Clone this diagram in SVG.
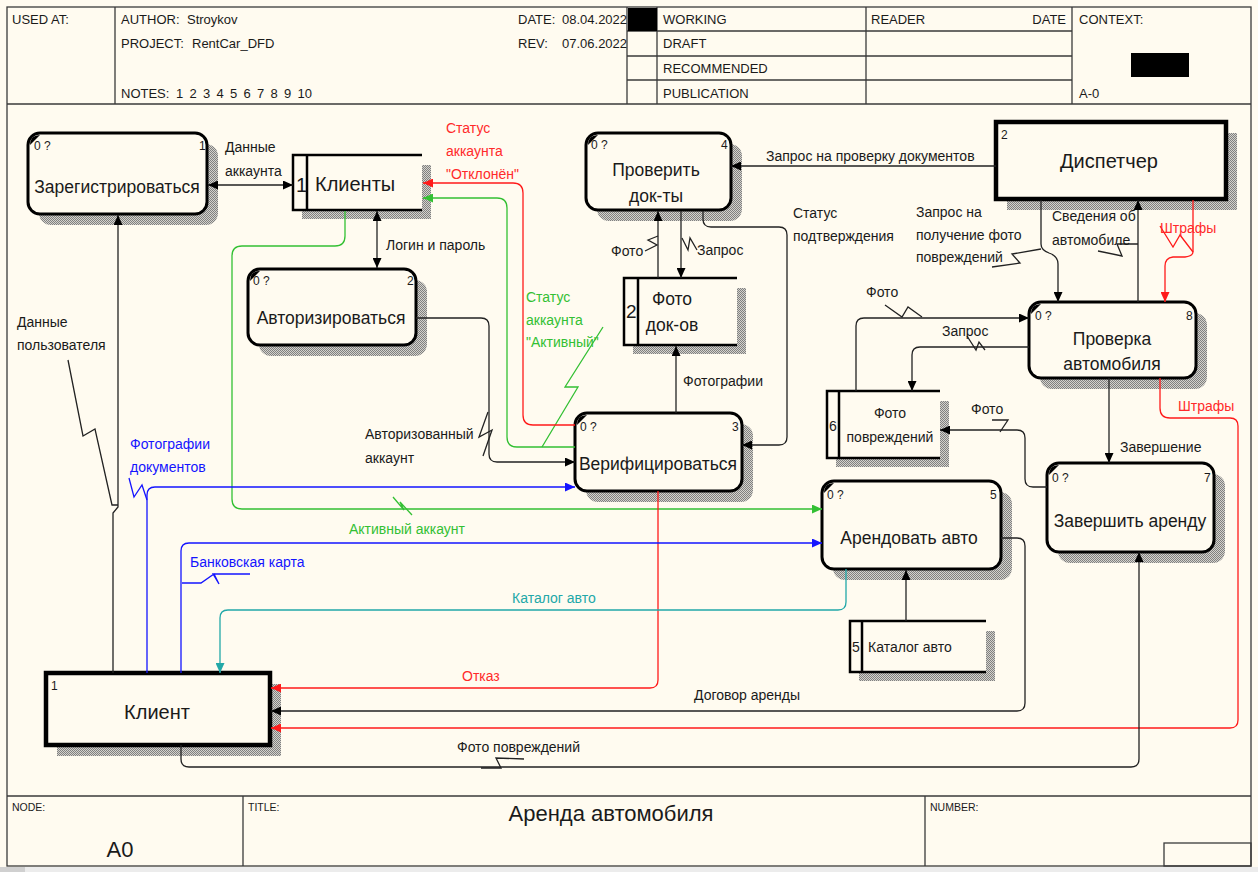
<svg xmlns="http://www.w3.org/2000/svg" width="1258" height="872" viewBox="0 0 1258 872">
<defs>
<style>
.t{font-family:"Liberation Sans",Arial,sans-serif;fill:#1a1a1a}
.h{font-size:13px}
.f{font-size:10.5px}
.l{font-size:14px}
.n{font-size:17.5px}
.s{font-size:12px}
.fr{fill:none;stroke:#3a3a3a;stroke-width:1.3}
.proc{fill:#fffbf0;stroke:#000;stroke-width:3}
.ext{fill:#fffbf0;stroke:#000;stroke-width:4.5}
.st{fill:none;stroke:#000;stroke-width:2.5}
.sh{fill:url(#hatch)}
.c{fill:none;stroke:#222;stroke-width:1.3}
.cr{fill:none;stroke:#ff1a1a;stroke-width:1.3}
.cg{fill:none;stroke:#33c033;stroke-width:1.3}
.cb{fill:none;stroke:#1414ff;stroke-width:1.3}
.ct{fill:none;stroke:#22a8a8;stroke-width:1.3}
.red{fill:#ff2a2a}
.grn{fill:#33c033}
.blu{fill:#1414ff}
.tea{fill:#22a8a8}
</style>
<pattern id="hatch" width="2" height="2" patternUnits="userSpaceOnUse">
<rect x="0" y="0" width="2" height="2" fill="#d4d2cc"/>
<rect x="0" y="0" width="1" height="1" fill="#808080"/>
<rect x="1" y="1" width="1" height="1" fill="#808080"/>
</pattern>
<marker id="ak" markerWidth="10" markerHeight="9" refX="10" refY="4.5" orient="auto-start-reverse" markerUnits="userSpaceOnUse"><path d="M0,0 L10,4.5 L0,9 z" fill="#000"/></marker>
<marker id="ar" markerWidth="10" markerHeight="9" refX="10" refY="4.5" orient="auto" markerUnits="userSpaceOnUse"><path d="M0,0 L10,4.5 L0,9 z" fill="#ff1a1a"/></marker>
<marker id="ag" markerWidth="10" markerHeight="9" refX="10" refY="4.5" orient="auto" markerUnits="userSpaceOnUse"><path d="M0,0 L10,4.5 L0,9 z" fill="#33c033"/></marker>
<marker id="ab" markerWidth="10" markerHeight="9" refX="10" refY="4.5" orient="auto" markerUnits="userSpaceOnUse"><path d="M0,0 L10,4.5 L0,9 z" fill="#1414ff"/></marker>
<marker id="at" markerWidth="10" markerHeight="9" refX="10" refY="4.5" orient="auto" markerUnits="userSpaceOnUse"><path d="M0,0 L10,4.5 L0,9 z" fill="#22a8a8"/></marker>
</defs>

<rect x="0" y="0" width="1258" height="872" fill="#fffbf0"/>
<rect x="0" y="867" width="1258" height="5" fill="#ececec"/>
<rect x="0" y="867" width="25" height="5" fill="#d0d0d0"/>

<g id="frame">
<rect class="fr" x="7" y="7" width="1244" height="859"/>
<line class="fr" x1="7" y1="104" x2="1251" y2="104" stroke-width="1.8"/>
<line class="fr" x1="115" y1="7" x2="115" y2="104"/>
<line class="fr" x1="627" y1="7" x2="627" y2="104"/>
<line class="fr" x1="657" y1="7" x2="657" y2="104"/>
<line class="fr" x1="866" y1="7" x2="866" y2="104"/>
<line class="fr" x1="1072" y1="7" x2="1072" y2="104"/>
<line class="fr" x1="627" y1="31" x2="1072" y2="31"/>
<line class="fr" x1="627" y1="56" x2="1072" y2="56"/>
<line class="fr" x1="627" y1="80" x2="1072" y2="80"/>
<rect x="628" y="8" width="29" height="23" fill="#000"/>
<rect x="1131" y="53" width="58" height="24" fill="#000"/>
<text class="t h" x="12" y="24">USED AT:</text>
<text class="t h" x="121" y="24">AUTHOR:</text>
<text class="t h" x="187" y="24">Stroykov</text>
<text class="t h" x="121" y="48">PROJECT:</text>
<text class="t h" x="192" y="48">RentCar_DFD</text>
<text class="t h" x="121" y="98">NOTES:</text>
<text class="t h" y="98"><tspan x="176">1</tspan><tspan x="189.5">2</tspan><tspan x="203">3</tspan><tspan x="216.5">4</tspan><tspan x="230">5</tspan><tspan x="243.5">6</tspan><tspan x="257">7</tspan><tspan x="270.5">8</tspan><tspan x="284">9</tspan><tspan x="297.5">10</tspan></text>
<text class="t h" x="518" y="24">DATE:</text>
<text class="t h" x="562" y="24">08.04.2022</text>
<text class="t h" x="518" y="48">REV:</text>
<text class="t h" x="562" y="48">07.06.2022</text>
<text class="t h" x="663" y="24">WORKING</text>
<text class="t h" x="663" y="48">DRAFT</text>
<text class="t h" x="663" y="73">RECOMMENDED</text>
<text class="t h" x="663" y="98">PUBLICATION</text>
<text class="t h" x="871" y="24">READER</text>
<text class="t h" x="1066" y="24" text-anchor="end">DATE</text>
<text class="t h" x="1079" y="24">CONTEXT:</text>
<text class="t h" x="1079" y="98">A-0</text>
<line class="fr" x1="7" y1="796" x2="1251" y2="796" stroke-width="1.8"/>
<line class="fr" x1="243" y1="796" x2="243" y2="866"/>
<line class="fr" x1="925" y1="796" x2="925" y2="866"/>
<rect class="fr" x="1164" y="843" width="87" height="23" stroke-width="1.6"/>
<text class="t f" x="12" y="811">NODE:</text>
<text class="t f" x="248" y="811">TITLE:</text>
<text class="t f" x="930" y="811">NUMBER:</text>
<text class="t" x="120" y="857" font-size="22" text-anchor="middle">A0</text>
<text class="t" x="611" y="821" font-size="22" text-anchor="middle">Аренда автомобиля</text>
</g>

<g id="p1">
<rect class="sh" x="39" y="144" width="179" height="81" rx="12"/>
<rect class="proc" x="28" y="133" width="179" height="81" rx="12"/>
<path d="M30,145 Q30,135 40,135 L34,141 z" fill="#000"/>
<text class="t s" x="34" y="150">0 ?</text>
<text class="t s" x="199" y="150">1</text>
<text class="t n" x="117" y="193" text-anchor="middle">Зарегистрироваться</text>
</g>

<g id="p2">
<rect class="sh" x="259" y="280" width="168" height="76" rx="12"/>
<rect class="proc" x="248" y="269" width="168" height="76" rx="12"/>
<path d="M250,281 Q250,271 260,271 L254,277 z" fill="#000"/>
<text class="t s" x="253" y="285">0 ?</text>
<text class="t s" x="407" y="285">2</text>
<text class="t n" x="331" y="324" text-anchor="middle">Авторизироваться</text>
</g>

<g id="p4">
<rect class="sh" x="597" y="144" width="145" height="77" rx="12"/>
<rect class="proc" x="586" y="133" width="145" height="77" rx="12"/>
<path d="M588,145 Q588,135 598,135 L592,141 z" fill="#000"/>
<text class="t s" x="591" y="149">0 ?</text>
<text class="t s" x="721" y="149">4</text>
<text class="t n" x="656" y="176" text-anchor="middle">Проверить</text>
<text class="t n" x="656" y="202" text-anchor="middle">док-ты</text>
</g>

<g id="p3">
<rect class="sh" x="586" y="424" width="167" height="78" rx="12"/>
<rect class="proc" x="575" y="413" width="167" height="78" rx="12"/>
<path d="M577,425 Q577,415 587,415 L581,421 z" fill="#000"/>
<text class="t s" x="580" y="431">0 ?</text>
<text class="t s" x="732" y="431">3</text>
<text class="t n" x="658" y="470" text-anchor="middle">Верифицироваться</text>
</g>

<g id="p8">
<rect class="sh" x="1040" y="313" width="167" height="76" rx="12"/>
<rect class="proc" x="1029" y="302" width="167" height="76" rx="12"/>
<path d="M1031,314 Q1031,304 1041,304 L1035,310 z" fill="#000"/>
<text class="t s" x="1035" y="320">0 ?</text>
<text class="t s" x="1186" y="320">8</text>
<text class="t n" x="1112" y="345" text-anchor="middle">Проверка</text>
<text class="t n" x="1112" y="370" text-anchor="middle">автомобиля</text>
</g>

<g id="p7">
<rect class="sh" x="1058" y="474" width="167" height="89" rx="12"/>
<rect class="proc" x="1047" y="463" width="167" height="89" rx="12"/>
<path d="M1049,475 Q1049,465 1059,465 L1053,471 z" fill="#000"/>
<text class="t s" x="1052" y="482">0 ?</text>
<text class="t s" x="1204" y="482">7</text>
<text class="t n" x="1130" y="527" text-anchor="middle">Завершить аренду</text>
</g>

<g id="p5">
<rect class="sh" x="833" y="492" width="179" height="88" rx="12"/>
<rect class="proc" x="822" y="481" width="179" height="88" rx="12"/>
<path d="M824,493 Q824,483 834,483 L828,489 z" fill="#000"/>
<text class="t s" x="827" y="499">0 ?</text>
<text class="t s" x="990" y="499">5</text>
<text class="t n" x="909" y="544" text-anchor="middle">Арендовать авто</text>
</g>

<g id="e2">
<rect class="sh" x="1007" y="133" width="230" height="77"/>
<rect class="ext" x="996" y="122" width="230" height="77"/>
<text class="t s" x="1001" y="139">2</text>
<text class="t" x="1109" y="168" font-size="20" text-anchor="middle">Диспетчер</text>
</g>

<g id="e1">
<rect class="sh" x="57" y="684" width="224" height="72"/>
<rect class="ext" x="46" y="673" width="224" height="72"/>
<text class="t s" x="51" y="690">1</text>
<text class="t" x="157" y="719" font-size="20" text-anchor="middle">Клиент</text>
</g>

<g id="s1">
<path class="sh" d="M422,165 H431 V219 H302 V210 H422 z"/>
<rect x="293" y="155" width="129" height="55" fill="#fffbf0"/>
<path class="st" d="M422,155 H293 V210 H422 M307,155 V210"/>
<text class="t" x="296" y="192" font-size="20">1</text>
<text class="t" x="315" y="191" font-size="20">Клиенты</text>
</g>

<g id="s2">
<path class="sh" d="M737,288 H746 V354 H633 V345 H737 z"/>
<rect x="624" y="278" width="113" height="67" fill="#fffbf0"/>
<path class="st" d="M737,278 H624 V345 H737 M638,278 V345"/>
<text class="t" x="626" y="318" font-size="19">2</text>
<text class="t n" x="672" y="305" text-anchor="middle">Фото</text>
<text class="t n" x="672" y="331" text-anchor="middle">док-ов</text>
</g>

<g id="s6">
<path class="sh" d="M940,401 H949 V467 H836 V458 H940 z"/>
<rect x="827" y="391" width="113" height="67" fill="#fffbf0"/>
<path class="st" d="M940,391 H827 V458 H940 M839,391 V458"/>
<text class="t l" x="829" y="431">6</text>
<text class="t l" x="890" y="418" text-anchor="middle">Фото</text>
<text class="t l" x="890" y="442" text-anchor="middle">повреждений</text>
</g>

<g id="s5">
<path class="sh" d="M986,631 H995 V681 H859 V672 H986 z"/>
<rect x="850" y="621" width="136" height="51" fill="#fffbf0"/>
<path class="st" d="M986,621 H850 V672 H986 M862,621 V672"/>
<text class="t l" x="852" y="652">5</text>
<text class="t l" x="868" y="652">Каталог авто</text>
</g>

<g id="connectors">
<path class="c" d="M208,185 H293" marker-start="url(#ak)" marker-end="url(#ak)"/>
<text class="t l" x="225" y="152">Данные</text>
<text class="t l" x="225" y="176">аккаунта</text>
<path class="c" d="M377,211 V268" marker-start="url(#ak)" marker-end="url(#ak)"/>
<text class="t l" x="386" y="250">Логин и пароль</text>
<path class="cg" d="M345,211 V236 Q345,246 335,246 H242 Q232,246 232,256 V499 Q232,509 242,509 H822" marker-end="url(#ag)"/>
<polyline class="cg" points="393,497 404,510 400,502 412,515"/>
<text class="t l grn" x="349" y="534">Активный аккаунт</text>
<path class="cg" d="M575,447 H517 Q507,447 507,437 V208 Q507,198 497,198 H423" marker-end="url(#ag)"/>
<polyline class="cg" points="603,327 565,387 578,387 542,447"/>
<text class="t l grn" x="526" y="302">Статус</text>
<text class="t l grn" x="526" y="325">аккаунта</text>
<text class="t l grn" x="526" y="347">"Активный"</text>
<path class="cr" d="M575,425 H533 Q523,425 523,415 V193 Q523,183 513,183 H423" marker-end="url(#ar)"/>
<text class="t l red" x="446" y="133">Статус</text>
<text class="t l red" x="446" y="156">аккаунта</text>
<text class="t l red" x="446" y="179">"Отклонён"</text>
<path class="c" d="M416,318 H481 Q489,318 489,326 V454 Q489,462 497,462 H575" marker-end="url(#ak)"/>
<polyline class="c" points="488,412 479,437 492,430 483,456"/>
<text class="t l" x="365" y="439">Авторизованный</text>
<text class="t l" x="365" y="463">аккаунт</text>
<path class="c" d="M676,413 V346" marker-end="url(#ak)"/>
<text class="t l" x="683" y="386">Фотографии</text>
<path class="c" d="M658,278 V211" marker-end="url(#ak)"/>
<polyline class="c" points="645,251 657,245 648,240 658,236"/>
<text class="t l" x="611" y="256">Фото</text>
<path class="c" d="M681,211 V278" marker-end="url(#ak)"/>
<polyline class="c" points="682,238 688,250 690,238 697,250"/>
<text class="t l" x="697" y="255">Запрос</text>
<path class="c" d="M703,211 V219 Q703,227 711,227 H779 Q787,227 787,235 V437 Q787,445 779,445 H742" marker-end="url(#ak)"/>
<text class="t l" x="793" y="218">Статус</text>
<text class="t l" x="793" y="241">подтверждения</text>
<path class="c" d="M996,166 H731" marker-end="url(#ak)"/>
<text class="t l" x="766" y="161">Запрос на проверку документов</text>
<path class="c" d="M1041,200 V244 Q1041,250 1049,253 Q1058,256 1058,264 V302" marker-end="url(#ak)"/>
<polyline class="c" points="992,267 1020,263 1012,254 1041,249"/>
<text class="t l" x="916" y="217">Запрос на</text>
<text class="t l" x="916" y="240">получение фото</text>
<text class="t l" x="916" y="262">повреждений</text>
<path class="c" d="M1138,302 V200" marker-end="url(#ak)"/>
<polyline class="c" points="1098,251 1122,256 1117,244 1138,244"/>
<text class="t l" x="1052" y="221">Сведения об</text>
<text class="t l" x="1052" y="245">автомобиле</text>
<path class="cr" d="M1193,200 V252 Q1193,256 1185,257 H1173 Q1165,258 1165,266 V302" marker-end="url(#ar)"/>
<polyline class="cr" points="1160,226 1173,247 1180,235 1193,252"/>
<text class="t l red" x="1160" y="233">Штрафы</text>
<path class="c" d="M1029,347 H920 Q912,347 912,355 V391" marker-end="url(#ak)"/>
<polyline class="c" points="967,336 976,350 979,342 985,350"/>
<text class="t l" x="942" y="336">Запрос</text>
<path class="c" d="M856,391 V326 Q856,318 864,318 H1029" marker-end="url(#ak)"/>
<polyline class="c" points="885,305 902,317 908,307 922,317"/>
<text class="t l" x="866" y="297">Фото</text>
<path class="c" d="M1109,378 V463" marker-end="url(#ak)"/>
<text class="t l" x="1120" y="452">Завершение</text>
<path class="c" d="M1047,487 H1033 Q1025,487 1025,479 V438 Q1025,430 1017,430 H940" marker-end="url(#ak)"/>
<polyline class="c" points="992,420 1008,420 1000,432"/>
<text class="t l" x="971" y="414">Фото</text>
<path class="cr" d="M1160,378 V408 Q1160,418 1170,418 H1230 Q1238,418 1238,426 V720 Q1238,728 1230,728 H271" marker-end="url(#ar)"/>
<text class="t l red" x="1178" y="411">Штрафы</text>
<path class="cr" d="M658,491 V680 Q658,688 650,688 H271" marker-end="url(#ar)"/>
<text class="t l red" x="462" y="681">Отказ</text>
<path class="c" d="M1001,538 H1017 Q1025,538 1025,546 V703 Q1025,711 1017,711 H271" marker-end="url(#ak)"/>
<text class="t l" x="694" y="700">Договор аренды</text>
<path class="c" d="M181,745 V759 Q181,767 189,767 H1131 Q1139,767 1139,759 V552" marker-end="url(#ak)"/>
<polyline class="c" points="481,768 501,768 496,758 524,759"/>
<text class="t l" x="457" y="752">Фото повреждений</text>
<path class="ct" d="M846,569 V602 Q846,610 838,610 H228 Q220,610 220,618 V673" marker-end="url(#at)"/>
<text class="t l tea" x="512" y="603">Каталог авто</text>
<path class="c" d="M906,621 V570" marker-end="url(#ak)"/>
<path class="cb" d="M147,673 V495 Q147,487 155,487 H575" marker-end="url(#ab)"/>
<polyline class="cb" points="129,478 134,497 142,485 147,500"/>
<text class="t l blu" x="130" y="449">Фотографии</text>
<text class="t l blu" x="130" y="472">документов</text>
<path class="cb" d="M181,673 V551 Q181,543 189,543 H822" marker-end="url(#ab)"/>
<polyline class="cb" points="182,583 201,583 214,574 219,584 213,574 250,574"/>
<text class="t l blu" x="190" y="567">Банковская карта</text>
<path class="c" d="M113,673 V513 L118,507 V215" marker-end="url(#ak)"/>
<polyline class="c" points="68,360 83,436 95,429 112,505 118,505"/>
<text class="t l" x="17" y="327">Данные</text>
<text class="t l" x="17" y="350">пользователя</text>
</g>
</svg>
